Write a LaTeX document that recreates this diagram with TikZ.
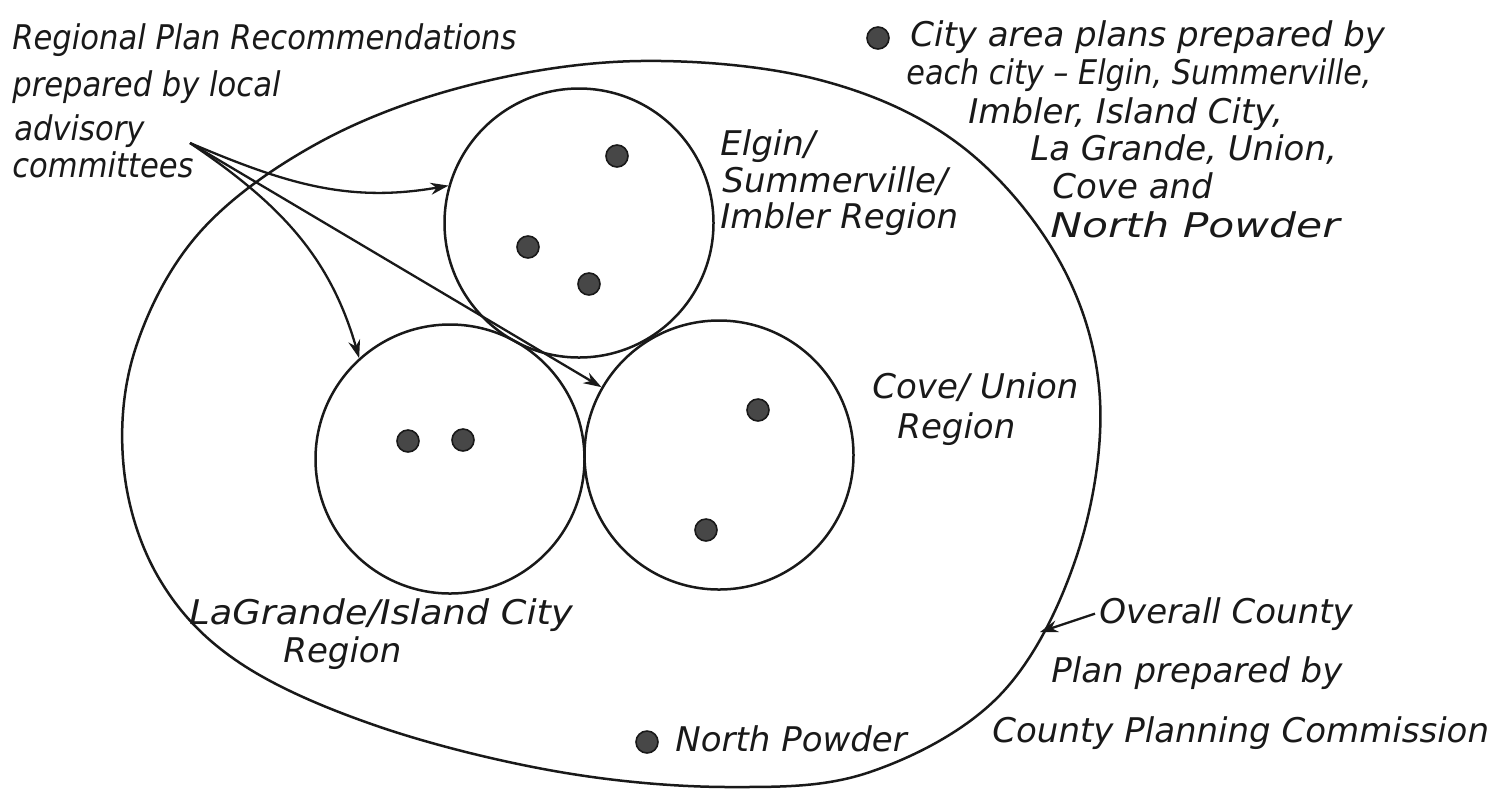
\documentclass[tikz,border=0pt]{standalone}
\usepackage{fontspec}
\setmainfont{DejaVu Sans}
\usetikzlibrary{arrows.meta}
\newcommand{\hstr}[1]{\addfontfeature{FakeStretch=#1}}
\begin{document}
\begin{tikzpicture}[x=0.5pt,y=-0.5pt,
  hand/.style={font=\fontsize{17}{20}\selectfont\itshape, text=black!90, inner sep=0pt, anchor=base west},
  handsm/.style={hand, font=\fontsize{17}{20}\selectfont\itshape\hstr{0.9}},
  ln/.style={line width=1.25pt, draw=black!90},
  region/.style={circle, draw=black!90, line width=1.25pt, minimum size=134.5pt, inner sep=0pt},
  city/.style={circle, fill=black!72, draw=black!90, line width=0.8pt, minimum size=11pt, inner sep=0pt},
  arr/.style={line width=1.15pt, draw=black!90, -{Stealth[length=9pt,width=6pt]}},
]
\fill[white] (0,0) rectangle (1509,789);
\useasboundingbox (0,0) rectangle (1509,789);

% overall county outline
\draw[ln] plot[smooth cycle, tension=0.6] coordinates {
  (640,61) (820,80) (960,145) (1060,262) (1100,400) (1076,558) (1000,695)
  (870,772) (730,787) (560,772) (380,727) (240,663) (160,580) (124,470)
  (135,350) (200,232) (320,142) (470,85)};
\coordinate (cpt) at (1040,632);

% regions
\node[region] (elgin) at (579,223) {};
\node[region] (lagrande) at (450,459) {};
\node[region] (cove) at (719,455) {};

% cities
\node[city] (e1) at (617,156) {};
\node[city] (e2) at (528,247) {};
\node[city] (e3) at (589,284) {};
\node[city] (g1) at (408,441) {};
\node[city] (g2) at (463,440) {};
\node[city] (v1) at (758,410) {};
\node[city] (v2) at (706,530) {};
\node[city] (np) at (647,742) {};
\node[city] (leg) at (878,38) {};

% regional plan text
\node[handsm] (r1) at (12,49) {Regional Plan Recommendations};
\node[handsm] (r2) at (12,96) {prepared by local};
\node[handsm] (r3) at (14,140) {advisory};
\node[handsm] (r4) at (12,177) {committees};
\coordinate (src) at (190,143);

% city legend text
\node[hand] (c1) at (910,46) {City area plans prepared by};
\node[hand, font=\fontsize{17}{20}\selectfont\itshape\hstr{0.89}] (c2) at (906,84) {each city – Elgin, Summerville,};
\node[hand] (c3) at (968,123) {Imbler, Island City,};
\node[hand] (c4) at (1030,160) {La Grande, Union,};
\node[hand] (c5) at (1052,198) {Cove and};
\node[hand, font=\fontsize{17}{20}\selectfont\itshape\hstr{1.25}] (c6) at (1050,237) {North Powder};

% region labels
\node[hand] (el1) at (720,155) {Elgin/};
\node[hand] (el2) at (722,192) {Summerville/};
\node[hand] (el3) at (720,228) {Imbler Region};
\node[hand] (cv1) at (872,398) {Cove/ Union};
\node[hand] (cv2) at (897,438) {Region};
\node[hand, font=\fontsize{17}{20}\selectfont\itshape\hstr{1.08}] (lg1) at (189,624) {LaGrande/Island City};
\node[hand] (lg2) at (283,662) {Region};

% county text
\node[hand] (oc1) at (1099,623) {Overall County};
\node[hand] (oc2) at (1051,682) {Plan prepared by};
\node[hand] (oc3) at (992,742) {County Planning Commission};
\node[hand] (npl) at (675,751) {North Powder};

% arrows
\draw[arr] (src) to[out=-23, in=190] (elgin.164);
\draw[arr] (src) to[out=-34, in=106] (lagrande.132.6);
\draw[arr] (src) -- (cove.150.6);
\draw[arr] ([xshift=-2pt]oc1.west) -- (cpt);
\end{tikzpicture}
\end{document}
